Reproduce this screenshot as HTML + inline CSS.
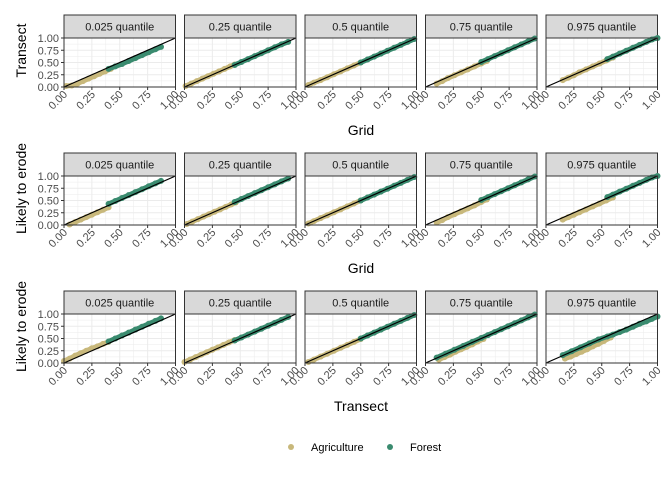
<!DOCTYPE html>
<html><head><meta charset="utf-8"><style>
body{margin:0;background:#fff;font-family:"Liberation Sans",sans-serif}
svg text{font-family:"Liberation Sans",sans-serif}
</style></head><body>
<svg id="c" width="672" height="480" xmlns="http://www.w3.org/2000/svg"></svg>
<script>
const quantiles=["0.025 quantile","0.25 quantile","0.5 quantile","0.75 quantile","0.975 quantile"];
const rowYLabels=["Transect","Likely to erode","Likely to erode"];
const rowXLabels=["Grid","Grid","Transect"];
const tickVals=[0,0.25,0.5,0.75,1];
const tickLabels=["0.00","0.25","0.50","0.75","1.00"];
const series=["Agriculture","Forest"];
const agX=[
 [[0.02,0.07,0.12,0.17,0.22,0.27,0.32,0.37,0.42],[0.01,0.06,0.11,0.16,0.21,0.26,0.31,0.36,0.41,0.45],[0.03,0.08,0.14,0.2,0.26,0.32,0.38,0.44,0.5],[0.1,0.15,0.2,0.26,0.32,0.38,0.44,0.5,0.55],[0.15,0.2,0.25,0.3,0.36,0.42,0.48,0.54,0.6]],
 [[0.05,0.1,0.15,0.2,0.25,0.3,0.35,0.4],[0.02,0.07,0.12,0.17,0.22,0.27,0.32,0.37,0.42,0.46],[0.03,0.08,0.14,0.2,0.26,0.32,0.38,0.44,0.5],[0.1,0.15,0.2,0.26,0.32,0.38,0.44,0.5,0.55],[0.15,0.2,0.25,0.3,0.36,0.42,0.48,0.54,0.6]],
 [[0.0,0.05,0.1,0.15,0.2,0.25,0.3,0.35,0.4],[0.0,0.05,0.1,0.15,0.2,0.25,0.3,0.35,0.4,0.45],[0.03,0.08,0.14,0.2,0.26,0.32,0.38,0.44,0.5],[0.12,0.17,0.22,0.27,0.32,0.37,0.42,0.47,0.52],[0.17,0.22,0.27,0.32,0.37,0.42,0.47,0.52,0.58]]];
const agY=[
 [[0.02,0.03,0.07,0.12,0.17,0.22,0.27,0.32,0.37],[0.02,0.07,0.12,0.17,0.22,0.27,0.32,0.37,0.42,0.46],[0.04,0.09,0.14,0.2,0.26,0.32,0.38,0.44,0.5],[0.07,0.12,0.18,0.24,0.3,0.36,0.42,0.48,0.53],[0.14,0.19,0.24,0.3,0.36,0.42,0.48,0.54,0.6]],
 [[0.01,0.06,0.11,0.16,0.21,0.26,0.31,0.36],[0.02,0.07,0.12,0.17,0.22,0.27,0.32,0.37,0.42,0.46],[0.03,0.08,0.14,0.2,0.26,0.32,0.38,0.44,0.5],[0.05,0.1,0.16,0.22,0.28,0.34,0.4,0.47,0.52],[0.11,0.16,0.21,0.26,0.32,0.38,0.44,0.5,0.56]],
 [[0.04,0.09,0.15,0.2,0.25,0.3,0.34,0.39,0.43],[0.02,0.07,0.12,0.17,0.22,0.27,0.32,0.37,0.42,0.47],[0.02,0.07,0.13,0.19,0.25,0.31,0.37,0.43,0.49],[0.07,0.12,0.17,0.23,0.28,0.33,0.38,0.44,0.49],[0.09,0.13,0.18,0.23,0.28,0.34,0.39,0.45,0.52]]];
const foX=[
 [[0.4,0.46,0.52,0.58,0.64,0.7,0.76,0.82,0.87],[0.45,0.51,0.57,0.63,0.69,0.75,0.81,0.87,0.93],[0.5,0.56,0.62,0.68,0.74,0.8,0.86,0.92,0.98],[0.5,0.56,0.62,0.68,0.74,0.8,0.86,0.92,0.98],[0.55,0.6,0.66,0.72,0.78,0.84,0.9,0.95,1.0]],
 [[0.4,0.46,0.52,0.58,0.64,0.7,0.76,0.82,0.87],[0.45,0.51,0.57,0.63,0.69,0.75,0.81,0.87,0.93],[0.5,0.56,0.62,0.68,0.74,0.8,0.86,0.92,0.98],[0.5,0.56,0.62,0.68,0.74,0.8,0.86,0.92,0.98],[0.55,0.6,0.66,0.72,0.78,0.84,0.9,0.95,1.0]],
 [[0.4,0.46,0.52,0.58,0.64,0.7,0.76,0.82,0.87],[0.45,0.51,0.57,0.63,0.69,0.75,0.81,0.87,0.93],[0.5,0.56,0.62,0.68,0.74,0.8,0.86,0.92,0.98],[0.1,0.18,0.26,0.34,0.42,0.5,0.56,0.62,0.68,0.74,0.8,0.86,0.92,0.98],[0.15,0.23,0.31,0.39,0.47,0.55,0.6,0.66,0.72,0.78,0.84,0.9,0.95,1.0]]];
const foY=[
 [[0.37,0.42,0.47,0.53,0.59,0.65,0.71,0.77,0.82],[0.45,0.51,0.57,0.63,0.69,0.75,0.81,0.87,0.92],[0.5,0.56,0.62,0.68,0.74,0.8,0.86,0.92,0.98],[0.51,0.57,0.63,0.69,0.75,0.81,0.87,0.93,0.99],[0.57,0.62,0.68,0.74,0.8,0.86,0.92,0.97,1.0]],
 [[0.43,0.49,0.55,0.61,0.67,0.73,0.79,0.85,0.9],[0.47,0.53,0.59,0.65,0.71,0.77,0.83,0.89,0.95],[0.5,0.56,0.62,0.68,0.74,0.8,0.86,0.92,0.98],[0.51,0.57,0.63,0.69,0.75,0.81,0.87,0.93,0.99],[0.57,0.62,0.68,0.74,0.8,0.86,0.92,0.97,1.0]],
 [[0.44,0.5,0.56,0.62,0.68,0.74,0.8,0.86,0.91],[0.46,0.52,0.58,0.64,0.7,0.76,0.82,0.88,0.94],[0.5,0.56,0.62,0.68,0.74,0.8,0.86,0.92,0.98],[0.11,0.19,0.27,0.35,0.43,0.51,0.57,0.63,0.69,0.75,0.81,0.87,0.93,0.99],[0.16,0.24,0.32,0.4,0.48,0.54,0.58,0.63,0.68,0.74,0.8,0.85,0.9,0.95]]];

const svg=document.getElementById('c');const NS="http://www.w3.org/2000/svg";
function mk(t,a,p){const e=document.createElementNS(NS,t);for(const k in a)e.setAttribute(k,a[k]);(p||svg).appendChild(e);return e;}
const panelLefts=[64,184.5,305,425.5,546],PW=111.5,PH=49;
const rowTops=[38,176,314];
const colors=["#c8b87b","#3a8b6f"];
rowTops.forEach((top,r)=>{
 const g=mk('g',{});
 
 
 quantiles.forEach((q,c)=>{
  const L=panelLefts[c];
  const sx=v=>L+v*PW, sy=v=>top+PH-v*PH;
  const pg=mk('g',{},g);
  
  
  const st=mk('rect',{x:L,y:top-23,width:PW,height:23,fill:'#d9d9d9',stroke:'#333','stroke-width':1},pg);
  
  const tt=mk('text',{x:L+PW/2,y:top-7.5,'text-anchor':'middle','font-size':11,fill:'#1a1a1a'},pg);tt.textContent=q;
  mk('rect',{x:L,y:top,width:PW,height:PH,fill:'#fff'},pg);
  for(let i=0;i<=8;i++){const v=i/8,maj=i%2==0;
   mk('line',{x1:sx(v),x2:sx(v),y1:top,y2:top+PH,stroke:'#ebebeb','stroke-width':maj?1:0.5},pg);
   mk('line',{x1:L,x2:L+PW,y1:sy(v),y2:sy(v),stroke:'#ebebeb','stroke-width':maj?1:0.5},pg);}
  [[agX,agY,0],[foX,foY,1]].forEach(([X,Y,s])=>{
   const xs=X[r][c],ys=Y[r][c];
   for(let i=1;i<xs.length;i++){
    if(xs[i]-xs[i-1]>0.1)continue;
    mk('line',{x1:sx(xs[i-1]),y1:sy(ys[i-1]),x2:sx(xs[i]),y2:sy(ys[i]),stroke:colors[s],'stroke-width':5,'stroke-linecap':'round'},pg);
   }
   xs.forEach((xv,i)=>{const p=mk('circle',{cx:sx(xv),cy:sy(ys[i]),r:3,fill:colors[s]},pg);
    });
  });
  const d=mk('line',{x1:sx(0),y1:sy(0),x2:sx(1),y2:sy(1),stroke:'#000','stroke-width':1.2},pg);
  
  mk('rect',{x:L,y:top,width:PW,height:PH,fill:'none',stroke:'#333','stroke-width':1},pg);
  tickVals.forEach((v,i)=>{
   mk('line',{x1:sx(v),x2:sx(v),y1:top+PH,y2:top+PH+3,stroke:'#333'},pg);
   const ax=sx(v)+4, ay=top+PH+8;
   const t=mk('text',{x:ax,y:ay,'text-anchor':'end','font-size':11,fill:'#4d4d4d',transform:`rotate(-45 ${ax} ${ay})`},pg);t.textContent=tickLabels[i];
   if(c==0){mk('line',{x1:L-3,x2:L,y1:sy(v),y2:sy(v),stroke:'#333'},pg);
    const ty=mk('text',{x:L-5,y:sy(v)+4,'text-anchor':'end','font-size':11,fill:'#4d4d4d'},pg);ty.textContent=tickLabels[i];}
  });
 });
 const yl=mk('text',{x:26,y:top+PH/2-12,'text-anchor':'middle','font-size':14,fill:'#000',transform:`rotate(-90 26 ${top+PH/2-12})`},g);
 yl.textContent=rowYLabels[r];
 const xl=mk('text',{x:361,y:top+97,'text-anchor':'middle','font-size':14,fill:'#000'},g);
 xl.textContent=rowXLabels[r];
});
const lg=mk('g',{});
[[291,"Agriculture"],[390,"Forest"]].forEach(([x,n],i)=>{
 const e=mk('g',{},lg);
 mk('circle',{cx:x,cy:447,r:3,fill:colors[i]},e);
 const t=mk('text',{x:x+20,y:451,'font-size':11,fill:'#000'},e);t.textContent=n;
});
</script>
</body></html>
